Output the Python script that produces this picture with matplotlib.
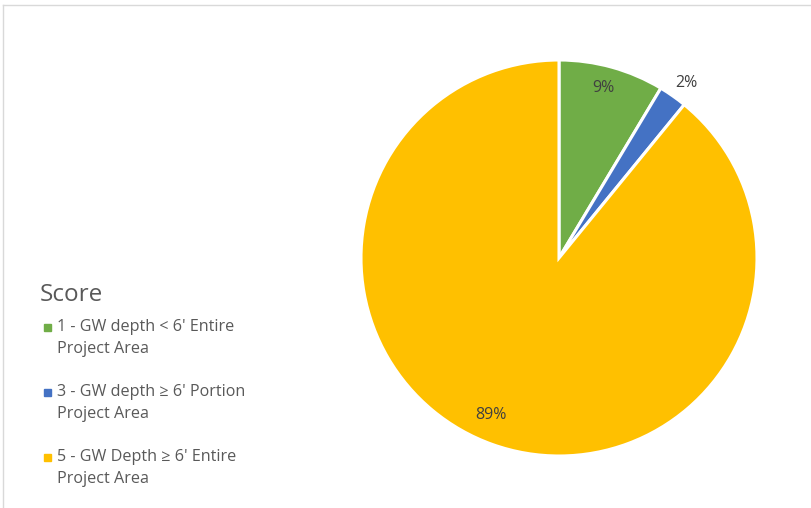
import numpy as np
import matplotlib.pyplot as plt
from matplotlib.lines import Line2D
from matplotlib.patches import Rectangle

# data
categories = [
    "1 - GW depth < 6' Entire\nProject Area",
    "3 - GW depth \u2265 6' Portion\nProject Area",
    "5 - GW Depth \u2265 6' Entire\nProject Area",
]
shares = [8.6, 2.3, 89.1]
pct_labels = ["9%", "2%", "89%"]
colors = ["#70AD47", "#4472C4", "#FFC000"]

# label anchor points in pie units (Excel best-fit placement)
label_xy = [(0.222, 0.860), (0.645, 0.885), (-0.343, -0.795)]

TEXT = "#595959"
plt.rcParams["font.family"] = ["Open Sans", "DejaVu Sans"]

W, H = 812, 508
fig = plt.figure(figsize=(W / 100, H / 100), dpi=100)

# pie: centre (559, 258) px, radius 198 px
cx, cy, r = 559, 258, 198
ax = fig.add_axes([(cx - r) / W, 1 - (cy + r) / H, 2 * r / W, 2 * r / H])
ax.pie(shares, colors=colors, startangle=90, counterclock=False, radius=1,
       wedgeprops=dict(edgecolor="white", linewidth=2.2))
ax.set_xlim(-1, 1)
ax.set_ylim(-1, 1)
ax.set_aspect("equal")
ax.axis("off")

for (x, y), lab in zip(label_xy, pct_labels):
    ax.text(x, y, lab, ha="center", va="center", fontsize=11.5, color="#404040")

# legend drawn by hand to match the spacing of the reference
fig.text(40 / W, 1 - 295 / H, "Score", fontsize=17.5, color=TEXT,
         ha="left", va="center")
for i, (cat, col) in enumerate(zip(categories, colors)):
    ytop = 327 + 65 * i
    fig.patches.append(Rectangle((44 / W, 1 - (ytop + 3.5) / H), 7 / W, 7 / H,
                                 transform=fig.transFigure, color=col))
    first, second = cat.split("\n")
    fig.text(57 / W, 1 - ytop / H, first, fontsize=11.6, color=TEXT,
             ha="left", va="center")
    fig.text(57 / W, 1 - (ytop + 22) / H, second, fontsize=11.6, color=TEXT,
             ha="left", va="center")

# light chart-area border (top and left visible)
border = "#D9D9D9"
fig.lines.append(Line2D([3.5 / W, 1], [1 - 4.5 / H, 1 - 4.5 / H],
                        transform=fig.transFigure, color=border, linewidth=1))
fig.lines.append(Line2D([3.5 / W, 3.5 / W], [0, 1 - 4.5 / H],
                        transform=fig.transFigure, color=border, linewidth=1))

fig.savefig("out.png", dpi=100)
